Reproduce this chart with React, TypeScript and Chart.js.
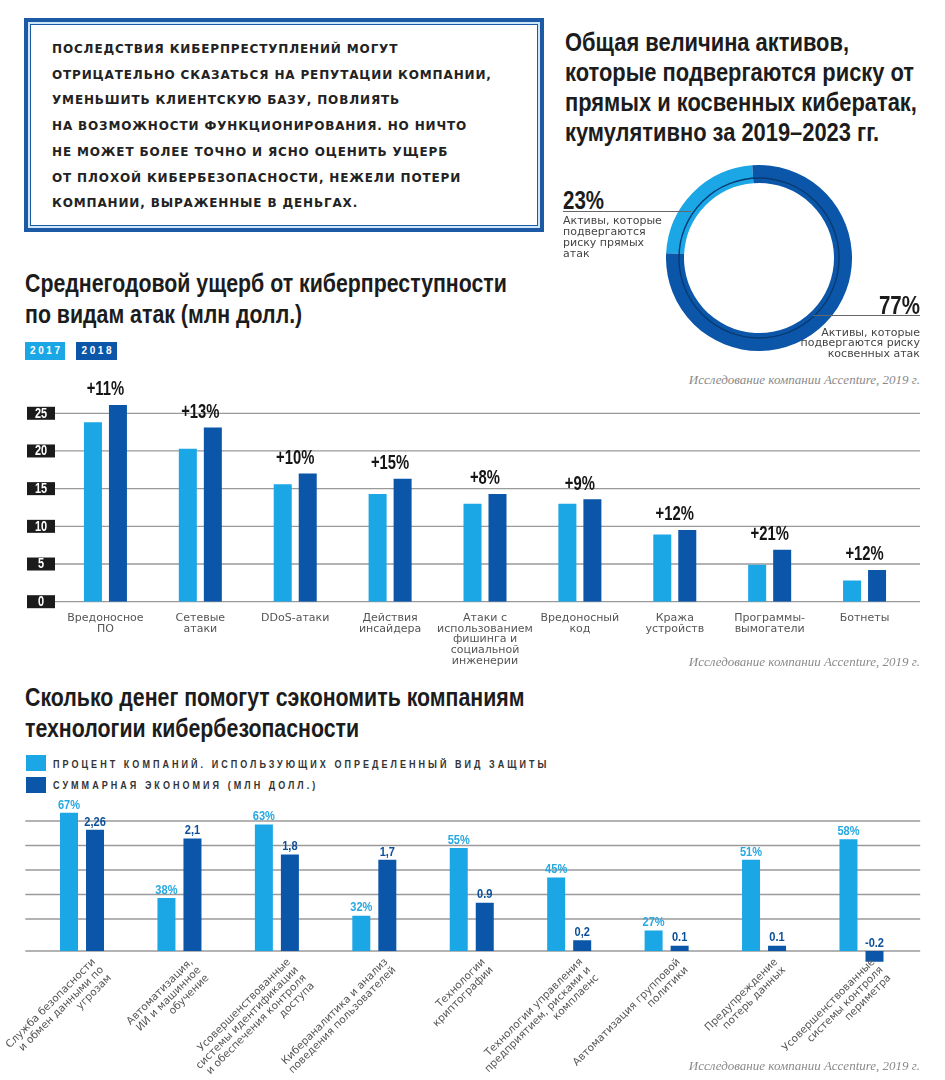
import React, { useEffect, useRef } from "react";
import { Chart, registerables } from "chart.js";

Chart.register(...registerables);

const HEAD = '"Liberation Sans", Arimo, Arial, sans-serif';
const NARROW_X = 0.82; // horizontal squeeze to emulate a condensed face
const SANS = '"DejaVu Sans", sans-serif';
const SERIF = '"Liberation Serif", "DejaVu Serif", serif';
const LIGHT = "#1ba6e6";
const DARK = "#0b56a8";
const GRID = "#9a9a9a";

// ---------- Donut data ----------
const donutLabels = ["Активы, которые подвергаются риску прямых атак", "Активы, которые подвергаются риску косвенных атак"];
const donutValues = [23, 77];

// ---------- Damage chart data ----------
const attackCategories = [
  ["Вредоносное", "ПО"],
  ["Сетевые", "атаки"],
  ["DDoS-атаки"],
  ["Действия", "инсайдера"],
  ["Атаки с", "использованием", "фишинга и", "социальной", "инженерии"],
  ["Вредоносный", "код"],
  ["Кража", "устройств"],
  ["Программы-", "вымогатели"],
  ["Ботнеты"],
];
const damage2017 = [23.8, 20.3, 15.6, 14.3, 13.0, 13.0, 8.9, 4.9, 2.8];
const damage2018 = [26.1, 23.1, 17.0, 16.3, 14.3, 13.6, 9.5, 6.9, 4.2];
const damageChange = ["+11%", "+13%", "+10%", "+15%", "+8%", "+9%", "+12%", "+21%", "+12%"];
const damageTicks = [0, 5, 10, 15, 20, 25];

// ---------- Technology chart data ----------
const techCategories = [
  ["Служба безопасности", "и обмен данными по", "угрозам"],
  ["Автоматизация,", "ИИ и машинное", "обучение"],
  ["Усовершенствованные", "системы идентификации", "и обеспечения контроля", "доступа"],
  ["Кибераналитика и анализ", "поведения пользователей"],
  ["Технологии", "криптографии"],
  ["Технологии управления", "предприятием, рисками и", "комплаенс"],
  ["Автоматизация групповой", "политики"],
  ["Предупреждение", "потерь данных"],
  ["Усовершенствованные", "системы контроля", "периметра"],
];
const techShare = [67, 38, 63, 32, 55, 45, 27, 51, 58];
const techSavings = [2.26, 2.1, 1.8, 1.7, 0.9, 0.2, 0.1, 0.1, -0.2];
const techShareLabels = ["67%", "38%", "63%", "32%", "55%", "45%", "27%", "51%", "58%"];
const techSavingsLabels = ["2,26", "2,1", "1,8", "1,7", "0.9", "0,2", "0.1", "0.1", "-0.2"];
const techGridTicks = [1, 2, 3, 4, 5];

// ---------- helpers ----------
function narrowText(ctx: CanvasRenderingContext2D, text: string, x: number, y: number, sx: number) {
  ctx.save();
  ctx.translate(x, y);
  ctx.scale(sx, 1);
  ctx.fillText(text, 0, 0);
  ctx.restore();
}

type GridSpec = { scale: string; values?: number[] };
function makeWideGrid(lines: GridSpec[], extL: number, extR: number) {
  return {
    id: "wideGrid",
    beforeDatasetsDraw(chart: any) {
      const { ctx, chartArea } = chart;
      ctx.save();
      ctx.strokeStyle = GRID;
      ctx.lineWidth = 1.3;
      for (const spec of lines) {
        const s = chart.scales[spec.scale];
        if (!s) continue;
        const vals: number[] = spec.values ? spec.values : (s.ticks || []).map((t: any) => t.value);
        for (const v of vals) {
          const y = s.getPixelForValue(v);
          ctx.beginPath();
          ctx.moveTo(chartArea.left - extL, y);
          ctx.lineTo(chartArea.right + extR, y);
          ctx.stroke();
        }
      }
      ctx.restore();
    },
  };
}

const tickBoxPlugin = {
  id: "tickBoxes",
  afterDraw(chart: any) {
    const { ctx } = chart;
    const s = chart.scales.y;
    ctx.save();
    ctx.font = `bold 14px ${HEAD}`;
    ctx.textAlign = "center";
    ctx.textBaseline = "middle";
    for (const t of s.ticks) {
      const y = s.getPixelForValue(t.value);
      ctx.fillStyle = "#1b1b1b";
      ctx.fillRect(27, y - 6.5, 28, 13);
      ctx.fillStyle = "#ffffff";
      narrowText(ctx, String(t.value), 41, y + 0.5, 0.78);
    }
    ctx.restore();
  },
};

const changeLabelPlugin = {
  id: "changeLabels",
  afterDatasetsDraw(chart: any) {
    const { ctx } = chart;
    const m0 = chart.getDatasetMeta(0).data;
    const m1 = chart.getDatasetMeta(1).data;
    const xs = chart.scales.x;
    ctx.save();
    ctx.font = `bold 19.5px ${HEAD}`;
    ctx.fillStyle = "#151515";
    ctx.textAlign = "center";
    ctx.textBaseline = "middle";
    damageChange.forEach((lbl, i) => {
      const top = Math.min(m0[i].y, m1[i].y);
      narrowText(ctx, lbl, xs.getPixelForValue(i), top - 15, 0.76);
    });
    ctx.restore();
  },
};

const valueLabelPlugin = {
  id: "valueLabels",
  afterDatasetsDraw(chart: any) {
    const { ctx } = chart;
    ctx.save();
    ctx.font = `bold 13.5px ${HEAD}`;
    ctx.textAlign = "center";
    ctx.textBaseline = "middle";
    const sets = [
      { meta: chart.getDatasetMeta(0).data, labels: techShareLabels, color: "#27a8e2" },
      { meta: chart.getDatasetMeta(1).data, labels: techSavingsLabels, color: "#0c4f9a" },
    ];
    for (const s of sets) {
      ctx.fillStyle = s.color;
      s.labels.forEach((lbl, i) => {
        const bar = s.meta[i];
        const top = Math.min(bar.y, bar.base);
        narrowText(ctx, lbl, bar.x, top - 8, NARROW_X);
      });
    }
    ctx.restore();
  },
};

function makeRotatedLabels(dx: number, dy: number, lh: number) {
  return {
    id: "rotLabels",
    afterDraw(chart: any) {
      const { ctx, chartArea } = chart;
      const xs = chart.scales.x;
      ctx.save();
      ctx.font = `10.5px ${SANS}`;
      ctx.fillStyle = "#555555";
      ctx.textAlign = "right";
      ctx.textBaseline = "middle";
      (chart.data.labels as string[][]).forEach((lines, i) => {
        const x = xs.getPixelForValue(i) + dx;
        const y = chartArea.bottom + dy;
        ctx.save();
        ctx.translate(x, y);
        ctx.rotate(-Math.PI / 4);
        lines.forEach((line, j) => ctx.fillText(line, 0, j * lh));
        ctx.restore();
      });
      ctx.restore();
    },
  };
}

const ringLinePlugin = {
  id: "ringLine",
  afterDatasetsDraw(chart: any) {
    const arc = chart.getDatasetMeta(0).data[0];
    if (!arc) return;
    const { ctx } = chart;
    const r = arc.innerRadius + (arc.outerRadius - arc.innerRadius) * 0.28;
    ctx.save();
    ctx.beginPath();
    ctx.arc(arc.x, arc.y, r, 0, Math.PI * 2);
    ctx.strokeStyle = "#083a72";
    ctx.lineWidth = 1.4;
    ctx.stroke();
    ctx.restore();
  },
};

// ---------- components ----------
function Donut() {
  const ref = useRef<HTMLCanvasElement>(null);
  useEffect(() => {
    const chart = new Chart(ref.current!, {
      type: "doughnut",
      data: {
        labels: donutLabels,
        datasets: [{ data: donutValues, backgroundColor: [LIGHT, DARK], borderWidth: 0 }],
      },
      options: {
        responsive: false,
        animation: false,
        events: [],
        cutout: 75,
        rotation: -87,
        layout: { padding: 0 },
        plugins: { legend: { display: false }, tooltip: { enabled: false } },
      } as any,
      plugins: [ringLinePlugin],
    });
    return () => chart.destroy();
  }, []);
  return (
    <canvas ref={ref} width={186} height={186}
      style={{ position: "absolute", left: 666, top: 165, width: 186, height: 186 }} />
  );
}

function DamageChart() {
  const ref = useRef<HTMLCanvasElement>(null);
  useEffect(() => {
    const chart = new Chart(ref.current!, {
      type: "bar",
      data: {
        labels: attackCategories as any,
        datasets: [
          { label: "2017", data: damage2017, backgroundColor: LIGHT, categoryPercentage: 0.527, barPercentage: 0.72 },
          { label: "2018", data: damage2018, backgroundColor: DARK, categoryPercentage: 0.527, barPercentage: 0.72 },
        ],
      },
      options: {
        responsive: false,
        animation: false,
        events: [],
        layout: { padding: { top: 5.6, left: 58, right: 33, bottom: 0 } },
        plugins: { legend: { display: false }, tooltip: { enabled: false } },
        scales: {
          x: {
            grid: { display: false, drawTicks: false },
            border: { display: false },
            ticks: {
              color: "#555555",
              font: { family: SANS, size: 11, lineHeight: 0.97 },
              padding: 11,
              maxRotation: 0,
              minRotation: 0,
              autoSkip: false,
            },
            afterFit: (s: any) => { s.height = 78.3; },
          },
          y: {
            display: false,
            min: 0,
            max: 30,
            afterBuildTicks: (s: any) => { s.ticks = damageTicks.map((v) => ({ value: v })); },
          },
        },
      } as any,
      plugins: [makeWideGrid([{ scale: "y" }], 3, 8), tickBoxPlugin, changeLabelPlugin],
    });
    return () => chart.destroy();
  }, []);
  return (
    <canvas ref={ref} width={945} height={310}
      style={{ position: "absolute", left: 0, top: 370, width: 945, height: 310 }} />
  );
}

function TechChart() {
  const ref = useRef<HTMLCanvasElement>(null);
  useEffect(() => {
    const chart = new Chart(ref.current!, {
      type: "bar",
      data: {
        labels: techCategories as any,
        datasets: [
          { label: "Процент компаний", data: techShare, yAxisID: "yPct", base: 20, backgroundColor: LIGHT, categoryPercentage: 0.534, barPercentage: 0.692 },
          { label: "Суммарная экономия", data: techSavings, yAxisID: "ySav", backgroundColor: DARK, categoryPercentage: 0.534, barPercentage: 0.692 },
        ],
      },
      options: {
        responsive: false,
        animation: false,
        events: [],
        layout: { padding: { top: 5.9, left: 33.3, right: 34.8, bottom: 115.6 } },
        plugins: { legend: { display: false }, tooltip: { enabled: false } },
        scales: {
          x: { display: false, offset: true },
          yPct: { display: false, type: "linear", min: 15.44, max: 71.05 },
          ySav: { display: false, type: "linear", min: -0.25, max: 2.8 },
          yGrid: {
            display: false, type: "linear", min: -0.853, max: 5.82,
            afterBuildTicks: (s: any) => { s.ticks = techGridTicks.map((v) => ({ value: v })); },
          },
        },
      } as any,
      plugins: [
        makeWideGrid([{ scale: "yGrid" }, { scale: "ySav", values: [0] }], 8, 10),
        valueLabelPlugin,
        makeRotatedLabels(12, -4, 11.3),
      ],
    });
    return () => chart.destroy();
  }, []);
  return (
    <canvas ref={ref} width={945} height={285}
      style={{ position: "absolute", left: 0, top: 795, width: 945, height: 285 }} />
  );
}

const abs = (s: React.CSSProperties): React.CSSProperties => ({ position: "absolute", margin: 0, ...s });

const headStyle = (origin: string): React.CSSProperties => ({
  fontFamily: HEAD, fontWeight: 700, color: "#1c1c1c", whiteSpace: "nowrap",
  transform: `scaleX(${NARROW_X})`, transformOrigin: origin,
});
const smallSans: React.CSSProperties = {
  fontFamily: SANS, fontSize: 11, lineHeight: "10.8px", color: "#444", whiteSpace: "nowrap",
};
const sourceStyle: React.CSSProperties = {
  fontFamily: SERIF, fontStyle: "italic", fontSize: 13, lineHeight: "16px", color: "#8a8a8a",
  textAlign: "right", whiteSpace: "nowrap",
};
const yearBox: React.CSSProperties = {
  color: "#fff", fontFamily: HEAD, fontWeight: 700, fontSize: 10, letterSpacing: 2.6,
  lineHeight: "18px", textAlign: "center", textIndent: 2.6, height: 18,
};
const legendText: React.CSSProperties = {
  ...headStyle("left top"), fontSize: 11, letterSpacing: 3.7, lineHeight: "16px", color: "#333",
};

export default function App() {
  return (
    <div style={{ position: "absolute", left: 0, top: 0, width: 945, height: 1080, background: "#fff", overflow: "hidden" }}>
      {/* quote box */}
      <div style={abs({ left: 24, top: 18, width: 520, height: 214, boxSizing: "border-box", border: "4px solid #1c5aa6", background: "#cfe7f8" })}>
        <div style={abs({ left: 2, top: 2, right: 2, bottom: 2, boxSizing: "border-box", border: "1.5px solid #1c5aa6", background: "#fff" })} />
      </div>
      <div style={abs({ left: 52, top: 37, fontFamily: SANS, fontWeight: 700, fontSize: 12, letterSpacing: 0.85, lineHeight: "25.7px", color: "#222", whiteSpace: "nowrap" })}>
        ПОСЛЕДСТВИЯ КИБЕРПРЕСТУПЛЕНИЙ МОГУТ<br />
        ОТРИЦАТЕЛЬНО СКАЗАТЬСЯ НА РЕПУТАЦИИ КОМПАНИИ,<br />
        УМЕНЬШИТЬ КЛИЕНТСКУЮ БАЗУ, ПОВЛИЯТЬ<br />
        НА ВОЗМОЖНОСТИ ФУНКЦИОНИРОВАНИЯ. НО НИЧТО<br />
        НЕ МОЖЕТ БОЛЕЕ ТОЧНО И ЯСНО ОЦЕНИТЬ УЩЕРБ<br />
        ОТ ПЛОХОЙ КИБЕРБЕЗОПАСНОСТИ, НЕЖЕЛИ ПОТЕРИ<br />
        КОМПАНИИ, ВЫРАЖЕННЫЕ В ДЕНЬГАХ.
      </div>

      {/* top-right title */}
      <div style={abs({ ...headStyle("left top"), fontSize: 26.7, left: 565, top: 26.7, lineHeight: "30px" })}>
        Общая величина активов,<br />
        которые подвергаются риску от<br />
        прямых и косвенных кибератак,<br />
        кумулятивно за 2019–2023 гг.
      </div>

      <Donut />
      <div style={abs({ ...headStyle("left top"), left: 563, top: 186, fontSize: 25, lineHeight: "28px" })}>23%</div>
      <div style={abs({ left: 563, top: 211, width: 128, height: 1, background: "#666" })} />
      <div style={abs({ ...smallSans, left: 563, top: 216.3 })}>
        Активы, которые<br />подвергаются<br />риску прямых<br />атак
      </div>
      <div style={abs({ ...headStyle("right top"), left: 700, width: 220, top: 291, textAlign: "right", fontSize: 25, lineHeight: "28px" })}>77%</div>
      <div style={abs({ left: 813, top: 315, width: 107, height: 1, background: "#666" })} />
      <div style={abs({ ...smallSans, left: 700, width: 220, top: 327.6, textAlign: "right" })}>
        Активы, которые<br />подвергаются риску<br />косвенных атак
      </div>
      <div style={abs({ ...sourceStyle, left: 500, width: 420, top: 372 })}>Исследование компании Accenture, 2019 г.</div>

      {/* middle section */}
      <div style={abs({ ...headStyle("left top"), fontSize: 26, left: 25, top: 267.5, lineHeight: "31px" })}>
        Среднегодовой ущерб от киберпреступности<br />
        по видам атак (млн долл.)
      </div>
      <div style={abs({ ...yearBox, left: 25, top: 342, width: 40, background: LIGHT })}>2017</div>
      <div style={abs({ ...yearBox, left: 76, top: 342, width: 41, background: DARK })}>2018</div>
      <DamageChart />
      <div style={abs({ ...sourceStyle, left: 500, width: 420, top: 654 })}>Исследование компании Accenture, 2019 г.</div>

      {/* bottom section */}
      <div style={abs({ ...headStyle("left top"), fontSize: 26, left: 25, top: 681.5, lineHeight: "31px" })}>
        Сколько денег помогут сэкономить компаниям<br />
        технологии кибербезопасности
      </div>
      <div style={abs({ left: 26, top: 755, width: 20, height: 16, background: LIGHT })} />
      <div style={abs({ left: 26, top: 777, width: 20, height: 16, background: DARK })} />
      <div style={abs({ ...legendText, left: 53, top: 756 })}>
        ПРОЦЕНТ КОМПАНИЙ. ИСПОЛЬЗУЮЩИХ ОПРЕДЕЛЕННЫЙ ВИД ЗАЩИТЫ
      </div>
      <div style={abs({ ...legendText, left: 53, top: 777 })}>
        СУММАРНАЯ ЭКОНОМИЯ (МЛН ДОЛЛ.)
      </div>
      <TechChart />
      <div style={abs({ ...sourceStyle, left: 500, width: 420, top: 1058 })}>Исследование компании Accenture, 2019 г.</div>
    </div>
  );
}
